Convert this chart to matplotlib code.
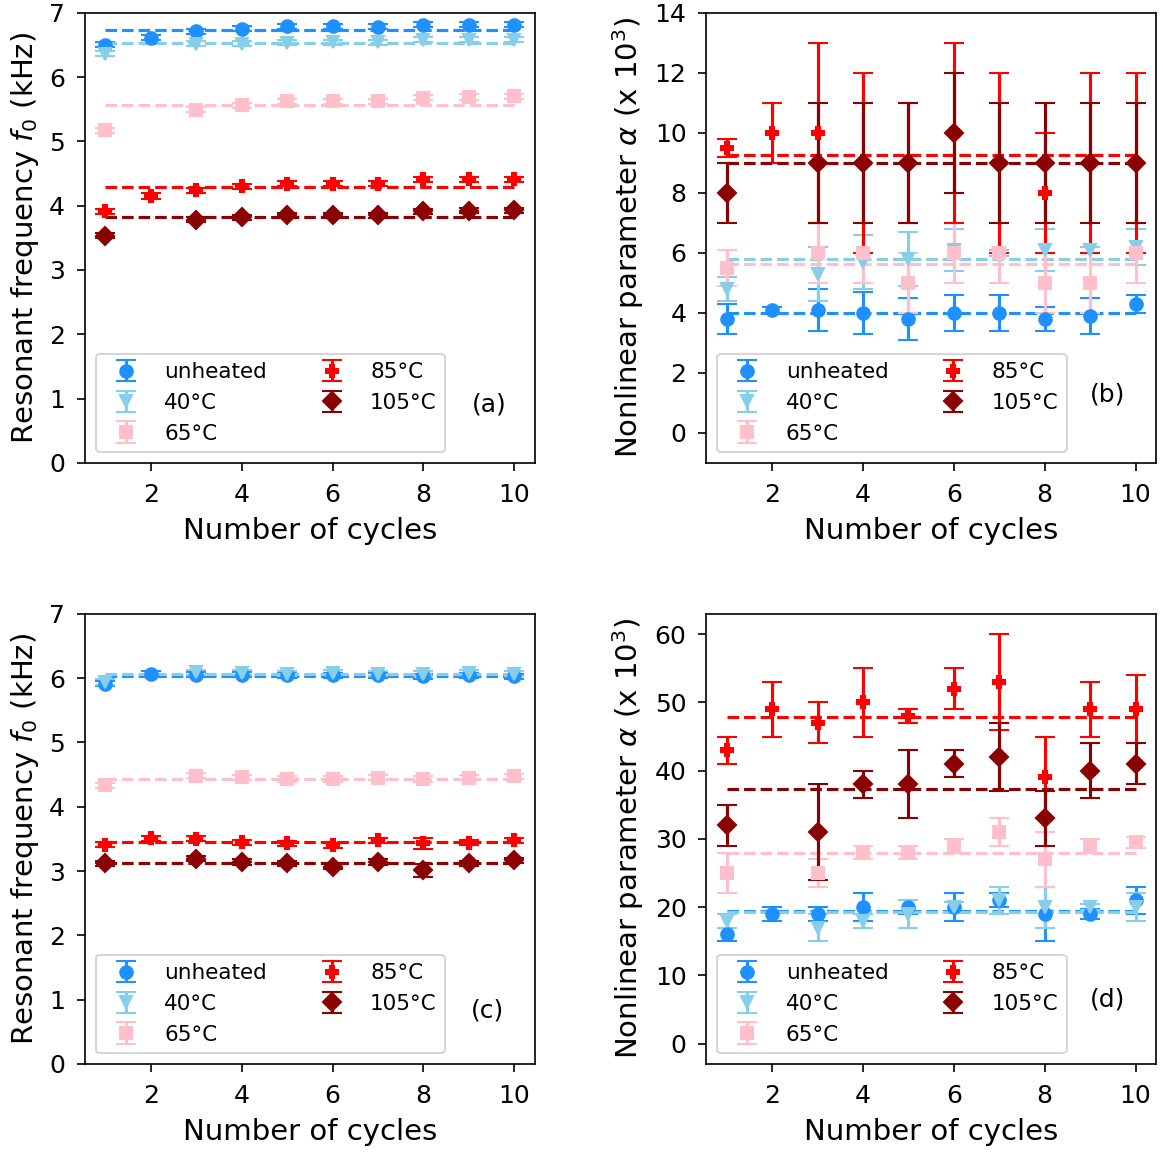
import numpy as np
import matplotlib
matplotlib.use("Agg")
import matplotlib.pyplot as plt

nan = np.nan
cycles = np.arange(1, 11)

labels = ["unheated", "40°C", "65°C", "85°C", "105°C"]
colors = ["dodgerblue", "skyblue", "pink", "red", "darkred"]
markers = ["o", "v", "s", "P", "D"]

# (a) resonant frequency, kHz
a_unheated = [6.50, 6.61, 6.71, 6.75, 6.79, 6.79, 6.78, 6.81, 6.81, 6.81]
a_40 = [6.36, nan, 6.52, 6.52, 6.53, 6.54, 6.54, 6.58, 6.58, 6.58]
a_65 = [5.17, nan, 5.49, 5.56, 5.62, 5.62, 5.62, 5.68, 5.69, 5.70]
a_85 = [3.91, 4.15, 4.24, 4.30, 4.34, 4.34, 4.34, 4.41, 4.41, 4.41]
a_105 = [3.53, nan, 3.78, 3.82, 3.85, 3.85, 3.85, 3.91, 3.92, 3.93]
a_err = [0.04, 0.04, 0.04, 0.04, 0.04, 0.04, 0.04, 0.04, 0.04, 0.04]

# (b) nonlinear parameter, x 10^3
b_unheated = [3.8, 4.1, 4.1, 4.0, 3.8, 4.0, 4.0, 3.8, 3.9, 4.3]
b_unheated_err = [0.5, 0.1, 0.7, 0.7, 0.7, 0.6, 0.6, 0.4, 0.6, 0.3]
b_40 = [4.8, nan, 5.3, 5.7, 5.8, 6.1, 6.0, 6.1, 6.1, 6.2]
b_40_err = [0.4, nan, 0.9, 0.9, 0.9, 0.7, 0.1, 0.7, 0.1, 0.6]
b_65 = [5.5, nan, 6.0, 6.0, 5.0, 6.0, 6.0, 5.0, 5.0, 6.0]
b_65_err = [0.6, nan, 1, 1, 1, 1, 1, 1, 1, 1]
b_85 = [9.5, 10, 10, 9, 9, 10, 9, 8, 9, 9]
b_85_err = [0.3, 1, 3, 3, 2, 3, 3, 2, 3, 3]
b_105 = [8, nan, 9, 9, 9, 10, 9, 9, 9, 9]
b_105_err = [1, nan, 2, 2, 2, 2, 2, 2, 2, 2]

# (c) resonant frequency, kHz
c_unheated = [5.91, 6.07, 6.05, 6.05, 6.04, 6.04, 6.04, 6.03, 6.04, 6.03]
c_40 = [5.94, nan, 6.09, 6.08, 6.07, 6.08, 6.07, 6.07, 6.08, 6.07]
c_65 = [4.33, nan, 4.48, 4.46, 4.43, 4.43, 4.45, 4.43, 4.45, 4.47]
c_85 = [3.41, 3.51, 3.50, 3.45, 3.43, 3.40, 3.48, 3.43, 3.44, 3.48]
c_105 = [3.12, nan, 3.19, 3.14, 3.12, 3.07, 3.14, 3.01, 3.12, 3.17]
c_err = [0.04, 0.04, 0.04, 0.04, 0.04, 0.04, 0.04, 0.04, 0.04, 0.04]
c_85_err = [0.04, 0.04, 0.04, 0.04, 0.04, 0.04, 0.04, 0.09, 0.04, 0.04]
c_105_err = [0.04, nan, 0.04, 0.04, 0.04, 0.04, 0.04, 0.1, 0.04, 0.04]

# (d) nonlinear parameter, x 10^3
d_unheated = [16, 19, 19, 20, 20, 20, 21, 19, 19, 21]
d_unheated_err = [1, 1, 1, 2, 1, 2, 1, 4, 0.7, 2]
d_40 = [18, nan, 17, 18, 19, 20, 21, 20, 20, 20]
d_40_err = [1, nan, 2, 1, 2, 0.8, 2, 3, 0.5, 2]
d_65 = [25, nan, 25, 28, 28, 29, 31, 27, 29, 29.5]
d_65_err = [3, nan, 2, 1, 1, 1, 2, 4, 1, 0.8]
d_85 = [43, 49, 47, 50, 48, 52, 53, 39, 49, 49]
d_85_err = [2, 4, 3, 5, 1, 3, 7, 6, 4, 5]
d_105 = [32, nan, 31, 38, 38, 41, 42, 33, 40, 41]
d_105_err = [3, nan, 7, 2, 5, 2, 5, 4, 4, 3]

panels = [
    ("(a)", [a_unheated, a_40, a_65, a_85, a_105], [a_err] * 5, (0, 7)),
    ("(b)", [b_unheated, b_40, b_65, b_85, b_105],
     [b_unheated_err, b_40_err, b_65_err, b_85_err, b_105_err], (-1, 14)),
    ("(c)", [c_unheated, c_40, c_65, c_85, c_105],
     [c_err, c_err, c_err, c_85_err, c_105_err], (0, 7)),
    ("(d)", [d_unheated, d_40, d_65, d_85, d_105],
     [d_unheated_err, d_40_err, d_65_err, d_85_err, d_105_err], (-3, 63)),
]
label_pos = {"(a)": (0.898, 0.129), "(b)": (0.892, 0.153),
             "(c)": (0.896, 0.118), "(d)": (0.892, 0.144)}

fig, axes = plt.subplots(2, 2, figsize=(1163 / 150, 1153 / 150), dpi=150)
fig.subplots_adjust(left=0.0731, right=0.994, top=0.989, bottom=0.0772,
                    wspace=0.3815, hspace=0.335)

for ax, (tag, series, errors, ylim) in zip(axes.flat, panels):
    for vals, err, lab, col, mk in zip(series, errors, labels, colors, markers):
        vals = np.array(vals, dtype=float)
        err = np.array(err, dtype=float)
        ok = ~np.isnan(vals)
        mean = np.nanmean(vals)
        ax.plot([cycles[0], cycles[-1]], [mean, mean], "--", color=col, lw=1.5)
        ax.errorbar(cycles[ok], vals[ok], yerr=err[ok], fmt=mk, color=col,
                    capsize=5, label=lab)
    ax.set_ylim(*ylim)
    ax.set_xlabel("Number of cycles", fontsize=14, labelpad=5)
    if tag in ("(a)", "(c)"):
        ax.set_ylabel("Resonant frequency $f_0$ (kHz)", fontsize=14)
    else:
        ax.set_ylabel("Nonlinear parameter $\\alpha$ (x 10$^3$)", fontsize=14)
    ax.tick_params(labelsize=12, length=4, pad=5.5)
    ax.set_xticks([2, 4, 6, 8, 10])
    ax.legend(loc="lower left", ncol=2, fontsize=10.3)
    ax.text(*label_pos[tag], tag, transform=ax.transAxes, fontsize=12,
            ha="center", va="center")

fig.savefig("out.png", dpi=150)
